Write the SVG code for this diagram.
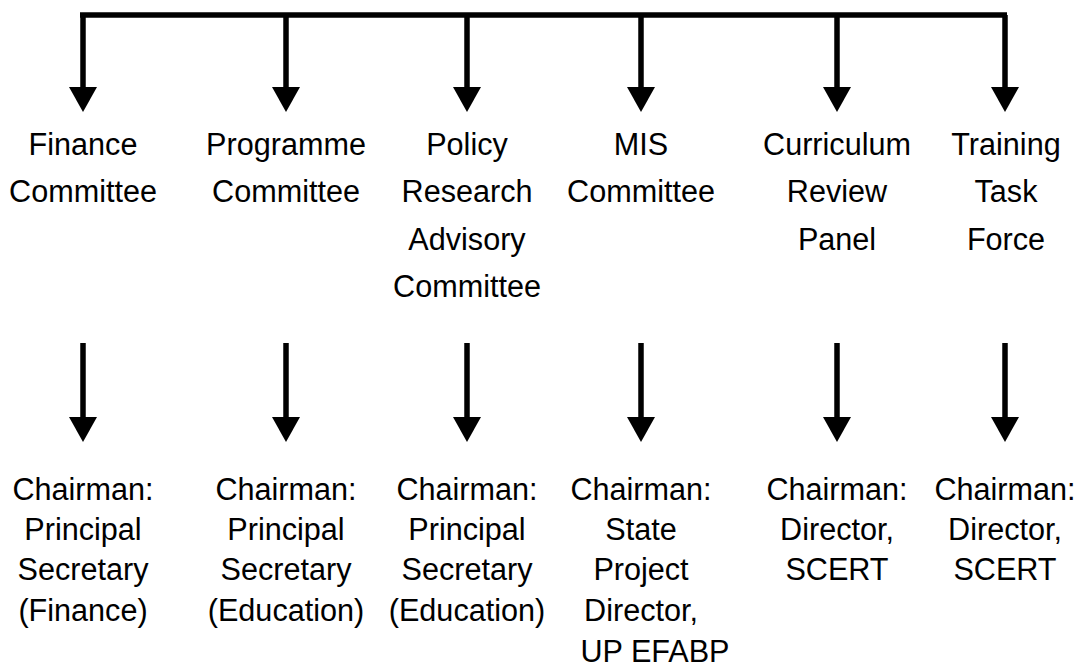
<svg xmlns="http://www.w3.org/2000/svg" width="1078" height="668" viewBox="0 0 1078 668">
<defs>
<style>
.t{font-family:"Liberation Sans",Arial,sans-serif;font-size:30.6px;fill:#000;text-anchor:middle}
.ln{stroke:#000;stroke-width:5.5;fill:none}
.ah{fill:#000}
</style>
</defs>
<rect width="1078" height="668" fill="#fff"/>
<g id="connectors">
<line class="ln" x1="80" y1="15" x2="1007" y2="15"/>
<path class="ln" d="M83,15 V88"/><path class="ah" d="M69,87 H97 L83,112 Z"/>
<path class="ln" d="M286,15 V88"/><path class="ah" d="M272,87 H300 L286,112 Z"/>
<path class="ln" d="M467,15 V88"/><path class="ah" d="M453,87 H481 L467,112 Z"/>
<path class="ln" d="M641,15 V88"/><path class="ah" d="M627,87 H655 L641,112 Z"/>
<path class="ln" d="M837,15 V88"/><path class="ah" d="M823,87 H851 L837,112 Z"/>
<path class="ln" d="M1005,15 V88"/><path class="ah" d="M991,87 H1019 L1005,112 Z"/>
<path class="ln" d="M83,343 V419"/><path class="ah" d="M69,417 H97 L83,442 Z"/>
<path class="ln" d="M286,343 V419"/><path class="ah" d="M272,417 H300 L286,442 Z"/>
<path class="ln" d="M467,343 V419"/><path class="ah" d="M453,417 H481 L467,442 Z"/>
<path class="ln" d="M641,343 V419"/><path class="ah" d="M627,417 H655 L641,442 Z"/>
<path class="ln" d="M837,343 V419"/><path class="ah" d="M823,417 H851 L837,442 Z"/>
<path class="ln" d="M1005,343 V419"/><path class="ah" d="M991,417 H1019 L1005,442 Z"/>
</g>
<g id="finance"><text class="t" x="83" y="155">Finance</text><text class="t" x="83" y="202">Committee</text></g>
<g id="programme"><text class="t" x="286" y="155">Programme</text><text class="t" x="286" y="202">Committee</text></g>
<g id="policy"><text class="t" x="467" y="155">Policy</text><text class="t" x="467" y="202">Research</text><text class="t" x="467" y="250">Advisory</text><text class="t" x="467" y="297">Committee</text></g>
<g id="mis"><text class="t" x="641" y="155">MIS</text><text class="t" x="641" y="202">Committee</text></g>
<g id="curriculum"><text class="t" x="837" y="155">Curriculum</text><text class="t" x="837" y="202">Review</text><text class="t" x="837" y="250">Panel</text></g>
<g id="training"><text class="t" x="1006" y="155">Training</text><text class="t" x="1006" y="202">Task</text><text class="t" x="1006" y="250">Force</text></g>
<g id="chair-finance"><text class="t" x="83" y="500">Chairman:</text><text class="t" x="83" y="540">Principal</text><text class="t" x="83" y="580">Secretary</text><text class="t" x="83" y="621">(Finance)</text></g>
<g id="chair-programme"><text class="t" x="286" y="500">Chairman:</text><text class="t" x="286" y="540">Principal</text><text class="t" x="286" y="580">Secretary</text><text class="t" x="286" y="621">(Education)</text></g>
<g id="chair-policy"><text class="t" x="467" y="500">Chairman:</text><text class="t" x="467" y="540">Principal</text><text class="t" x="467" y="580">Secretary</text><text class="t" x="467" y="621">(Education)</text></g>
<g id="chair-mis"><text class="t" x="641" y="500">Chairman:</text><text class="t" x="641" y="540">State</text><text class="t" x="641" y="580">Project</text><text class="t" x="641" y="621">Director,</text><text class="t" x="655" y="662">UP EFABP</text></g>
<g id="chair-curriculum"><text class="t" x="837" y="500">Chairman:</text><text class="t" x="837" y="540">Director,</text><text class="t" x="837" y="580">SCERT</text></g>
<g id="chair-training"><text class="t" x="1005" y="500">Chairman:</text><text class="t" x="1005" y="540">Director,</text><text class="t" x="1005" y="580">SCERT</text></g>
</svg>
